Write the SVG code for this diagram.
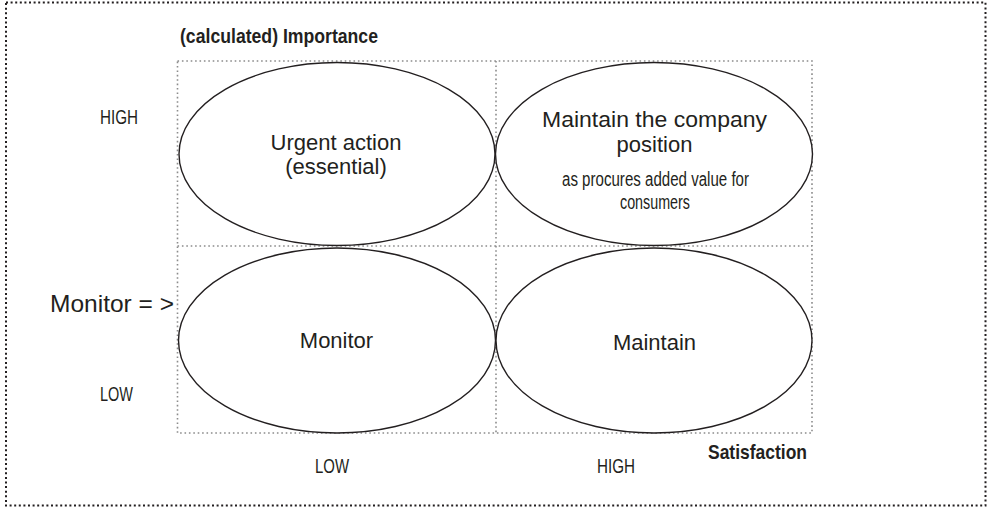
<svg xmlns="http://www.w3.org/2000/svg" width="991" height="507" viewBox="0 0 991 507">
<style>
.frame{fill:none;stroke:#231f20;stroke-width:2;stroke-dasharray:2 2.6}
.grid{fill:none;stroke:#8c8c8c;stroke-width:1.6;stroke-dasharray:1.6 2.8}
.ell{fill:#fff;stroke:#231f20;stroke-width:1.4}
.t{font-family:"Liberation Sans",Arial,sans-serif;font-size:22px;fill:#231f20;text-anchor:middle}
.n{font-family:"Liberation Sans",Arial,sans-serif;fill:#231f20}
.b{font-weight:bold;font-size:21px}
.ax{font-size:21px}
</style>
<rect class="frame" x="6" y="2.5" width="979.5" height="503"/>
<g id="grid">
<rect class="grid" x="177.5" y="61" width="634.5" height="372"/>
<line class="grid" x1="496" y1="61" x2="496" y2="433"/>
<line class="grid" x1="177.5" y1="246" x2="812" y2="246"/>
</g>
<g id="node-urgent">
<ellipse class="ell" cx="337" cy="154" rx="158" ry="91.5"/>
<text class="t" x="336" y="150">Urgent action</text>
<text class="t" x="336" y="174">(essential)</text>
</g>
<g id="node-maintain-position">
<ellipse class="ell" cx="654" cy="154" rx="158.5" ry="91.5"/>
<text class="t" x="654.5" y="127" textLength="225" lengthAdjust="spacingAndGlyphs">Maintain the company</text>
<text class="t" x="654.5" y="152">position</text>
<text class="n" x="562" y="186" font-size="20" textLength="187" lengthAdjust="spacingAndGlyphs">as procures added value for</text>
<text class="n" x="620" y="209" font-size="20" textLength="70" lengthAdjust="spacingAndGlyphs">consumers</text>
</g>
<g id="node-monitor">
<ellipse class="ell" cx="337" cy="340.5" rx="158.5" ry="92.5"/>
<text class="t" x="336.5" y="348">Monitor</text>
</g>
<g id="node-maintain">
<ellipse class="ell" cx="654" cy="340.5" rx="158" ry="92.5"/>
<text class="t" x="654.5" y="350">Maintain</text>
</g>
<g id="labels">
<text class="n b" x="180" y="43" textLength="198" lengthAdjust="spacingAndGlyphs">(calculated) Importance</text>
<text class="n b" x="708" y="459" textLength="99" lengthAdjust="spacingAndGlyphs">Satisfaction</text>
<text class="n ax" x="100" y="124" textLength="38" lengthAdjust="spacingAndGlyphs">HIGH</text>
<text class="n ax" x="100" y="401" textLength="33" lengthAdjust="spacingAndGlyphs">LOW</text>
<text class="n ax" x="315" y="473" textLength="34" lengthAdjust="spacingAndGlyphs">LOW</text>
<text class="n ax" x="597" y="473" textLength="38" lengthAdjust="spacingAndGlyphs">HIGH</text>
<text class="t" x="50" y="312" style="text-anchor:start;font-size:24px" textLength="124" lengthAdjust="spacingAndGlyphs">Monitor = &gt;</text>
</g>
</svg>
